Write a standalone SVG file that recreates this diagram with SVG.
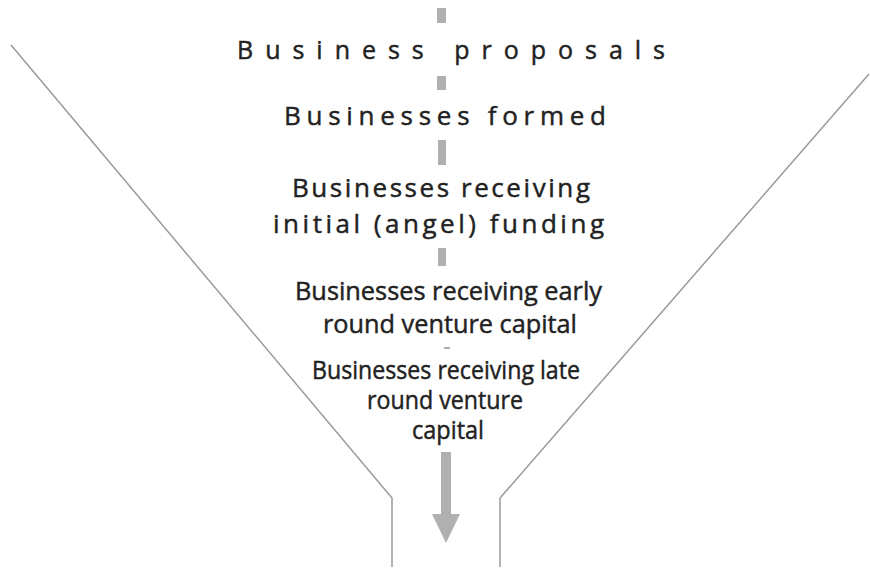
<svg xmlns="http://www.w3.org/2000/svg" width="870" height="569" viewBox="0 0 870 569">
<style>
.t{font-family:"Open Sans","Liberation Sans",sans-serif;fill:#222;stroke:#222;stroke-width:0.45;}
.s{font-size:25px;}
.f{fill:none;stroke:#9a9a9a;stroke-width:1.5;}
.d{fill:#b0b0b0;}
</style>
<rect width="870" height="569" fill="#fff"/>
<g id="funnel">
<polyline class="f" points="11,45 392,498 392,567"/>
<polyline class="f" points="869,74 500,498 500,567"/>
</g>
<g id="connectors">
<rect class="d" x="437" y="8" width="9" height="15"/>
<rect class="d" x="437" y="76" width="9" height="14"/>
<rect class="d" x="438" y="140" width="8" height="25"/>
<rect class="d" x="438" y="248" width="8" height="18"/>
<rect class="d" x="444" y="347" width="6" height="2"/>
<path class="d" d="M441,452 H451 V514 H460 L446,543 L432,514 H441 Z"/>
</g>
<g id="n1"><text class="t" x="237" y="59" font-size="25" textLength="428" lengthAdjust="spacing">Business proposals</text></g>
<g id="n2"><text class="t" x="284" y="125" font-size="26" textLength="322" lengthAdjust="spacing">Businesses formed</text></g>
<g id="n3">
<text class="t" x="292" y="197" font-size="26" textLength="298" lengthAdjust="spacing">Businesses receiving</text>
<text class="t" x="273" y="233" font-size="26" textLength="331" lengthAdjust="spacing">initial (angel) funding</text>
</g>
<g id="n4">
<text class="t s" x="295" y="300" textLength="307" lengthAdjust="spacingAndGlyphs">Businesses receiving early</text>
<text class="t s" x="323" y="333" textLength="254" lengthAdjust="spacingAndGlyphs">round venture capital</text>
</g>
<g id="n5">
<text class="t s" x="312" y="379" textLength="268" lengthAdjust="spacingAndGlyphs">Businesses receiving late</text>
<text class="t s" x="367" y="409" textLength="156" lengthAdjust="spacingAndGlyphs">round venture</text>
<text class="t s" x="412" y="439" textLength="72" lengthAdjust="spacingAndGlyphs">capital</text>
</g>
</svg>
